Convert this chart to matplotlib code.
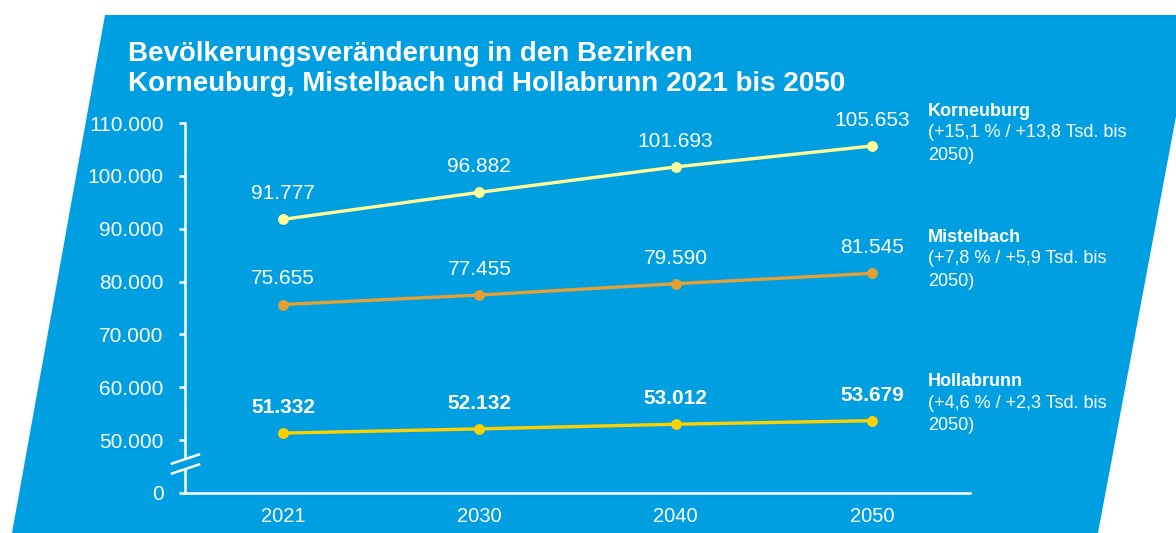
import matplotlib
matplotlib.use("Agg")
import matplotlib.pyplot as plt
from matplotlib.patches import Polygon
from matplotlib.lines import Line2D

plt.rcParams['font.family'] = ['Liberation Sans', 'DejaVu Sans']

# ---- data ----
years = ["2021", "2030", "2040", "2050"]
korneuburg = [91777, 96882, 101693, 105653]
mistelbach = [75655, 77455, 79590, 81545]
hollabrunn = [51332, 52132, 53012, 53679]
series_names = ["Korneuburg", "Mistelbach", "Hollabrunn"]
series_notes = ["(+15,1 % / +13,8 Tsd. bis\n2050)",
                "(+7,8 % / +5,9 Tsd. bis\n2050)",
                "(+4,6 % / +2,3 Tsd. bis\n2050)"]
ytick_values = [0, 50000, 60000, 70000, 80000, 90000, 100000, 110000]
title = "Bevölkerungsveränderung in den Bezirken\nKorneuburg, Mistelbach und Hollabrunn 2021 bis 2050"

BLUE = "#009FE1"
colors = ["#FFFF99", "#E2A035", "#FFD000"]
label_bold = [False, False, True]

W, H = 1176, 533
fig = plt.figure(figsize=(W / 100, H / 100), dpi=100)
fig.patch.set_facecolor("white")

# parallelogram background (pixel coords -> figure fraction)
pts = [(105, 15), (1195, 15), (1098, 533), (12, 533)]
poly = Polygon([(x / W, 1 - y / H) for x, y in pts], closed=True,
               transform=fig.transFigure, facecolor=BLUE, edgecolor="none", zorder=-10)
fig.patches.append(poly)

# axis: broken scale, 0 drawn at the 40000 position
BREAK_BASE = 40000
def ymap(v):
    return v if v >= 50000 else BREAK_BASE

left = 185 / W
right = 970 / W
bottom = 1 - 493 / H
top = 1 - 123 / H
ax = fig.add_axes([left, bottom, right - left, top - bottom])
ax.set_facecolor("none")
ax.set_zorder(5)
ax.set_xlim(-0.5, len(years) - 0.5)
ax.set_ylim(BREAK_BASE, 110000)

for spine in ["top", "right"]:
    ax.spines[spine].set_visible(False)
for spine in ["left", "bottom"]:
    ax.spines[spine].set_color("white")
    ax.spines[spine].set_linewidth(1.8)

ax.set_yticks([ymap(v) for v in ytick_values])
ax.set_yticklabels([f"{v:,}".replace(",", ".") for v in ytick_values])
ax.tick_params(axis="y", colors="white", labelsize=15, length=4.5, width=1.8, pad=11)
ax.set_xticks(range(len(years)))
ax.set_xticklabels(years)
ax.tick_params(axis="x", colors="white", labelsize=14.5, length=0, pad=10)

x = list(range(len(years)))
all_series = [korneuburg, mistelbach, hollabrunn]
for vals, c, bold in zip(all_series, colors, label_bold):
    ax.plot(x, vals, color=c, lw=2.4, marker="o", markersize=6.8,
            markerfacecolor=c, markeredgecolor=c, zorder=3, clip_on=False)
    for xi, v in zip(x, vals):
        ax.annotate(f"{v:,}".replace(",", "."), (xi, v), xytext=(0, 18.5),
                    textcoords="offset points", ha="center", va="center",
                    color="white", fontsize=15,
                    fontweight="bold" if bold else "normal")

# break marks on y-axis
for yb in (459, 469):
    fig.add_artist(Line2D([172 / W, 199 / W], [1 - (yb + 4.5) / H, 1 - (yb - 4.5) / H],
                          transform=fig.transFigure, color="white", lw=1.8, zorder=20))
# cover axis between the break marks
fig.add_artist(Line2D([left, left], [1 - 466.5 / H, 1 - 461.5 / H], transform=fig.transFigure,
                      color=BLUE, lw=3, zorder=19))

# title
fig.text(128 / W, 1 - 41 / H, title, color="white", fontsize=20, fontweight="bold",
         ha="left", va="top", linespacing=1.2)

# right-side annotations
note_y = [111, 237, 382]
for name, note, yy in zip(series_names, series_notes, note_y):
    fig.text(928 / W, 1 - yy / H, name, color="white", fontsize=13,
             fontweight="bold", ha="left", va="center")
    for i, line in enumerate(note.split("\n")):
        fig.text(928 / W, 1 - (yy + 22 * (i + 1)) / H, line, color="white",
                 fontsize=13, ha="left", va="center")

fig.savefig("out.png", dpi=100)
